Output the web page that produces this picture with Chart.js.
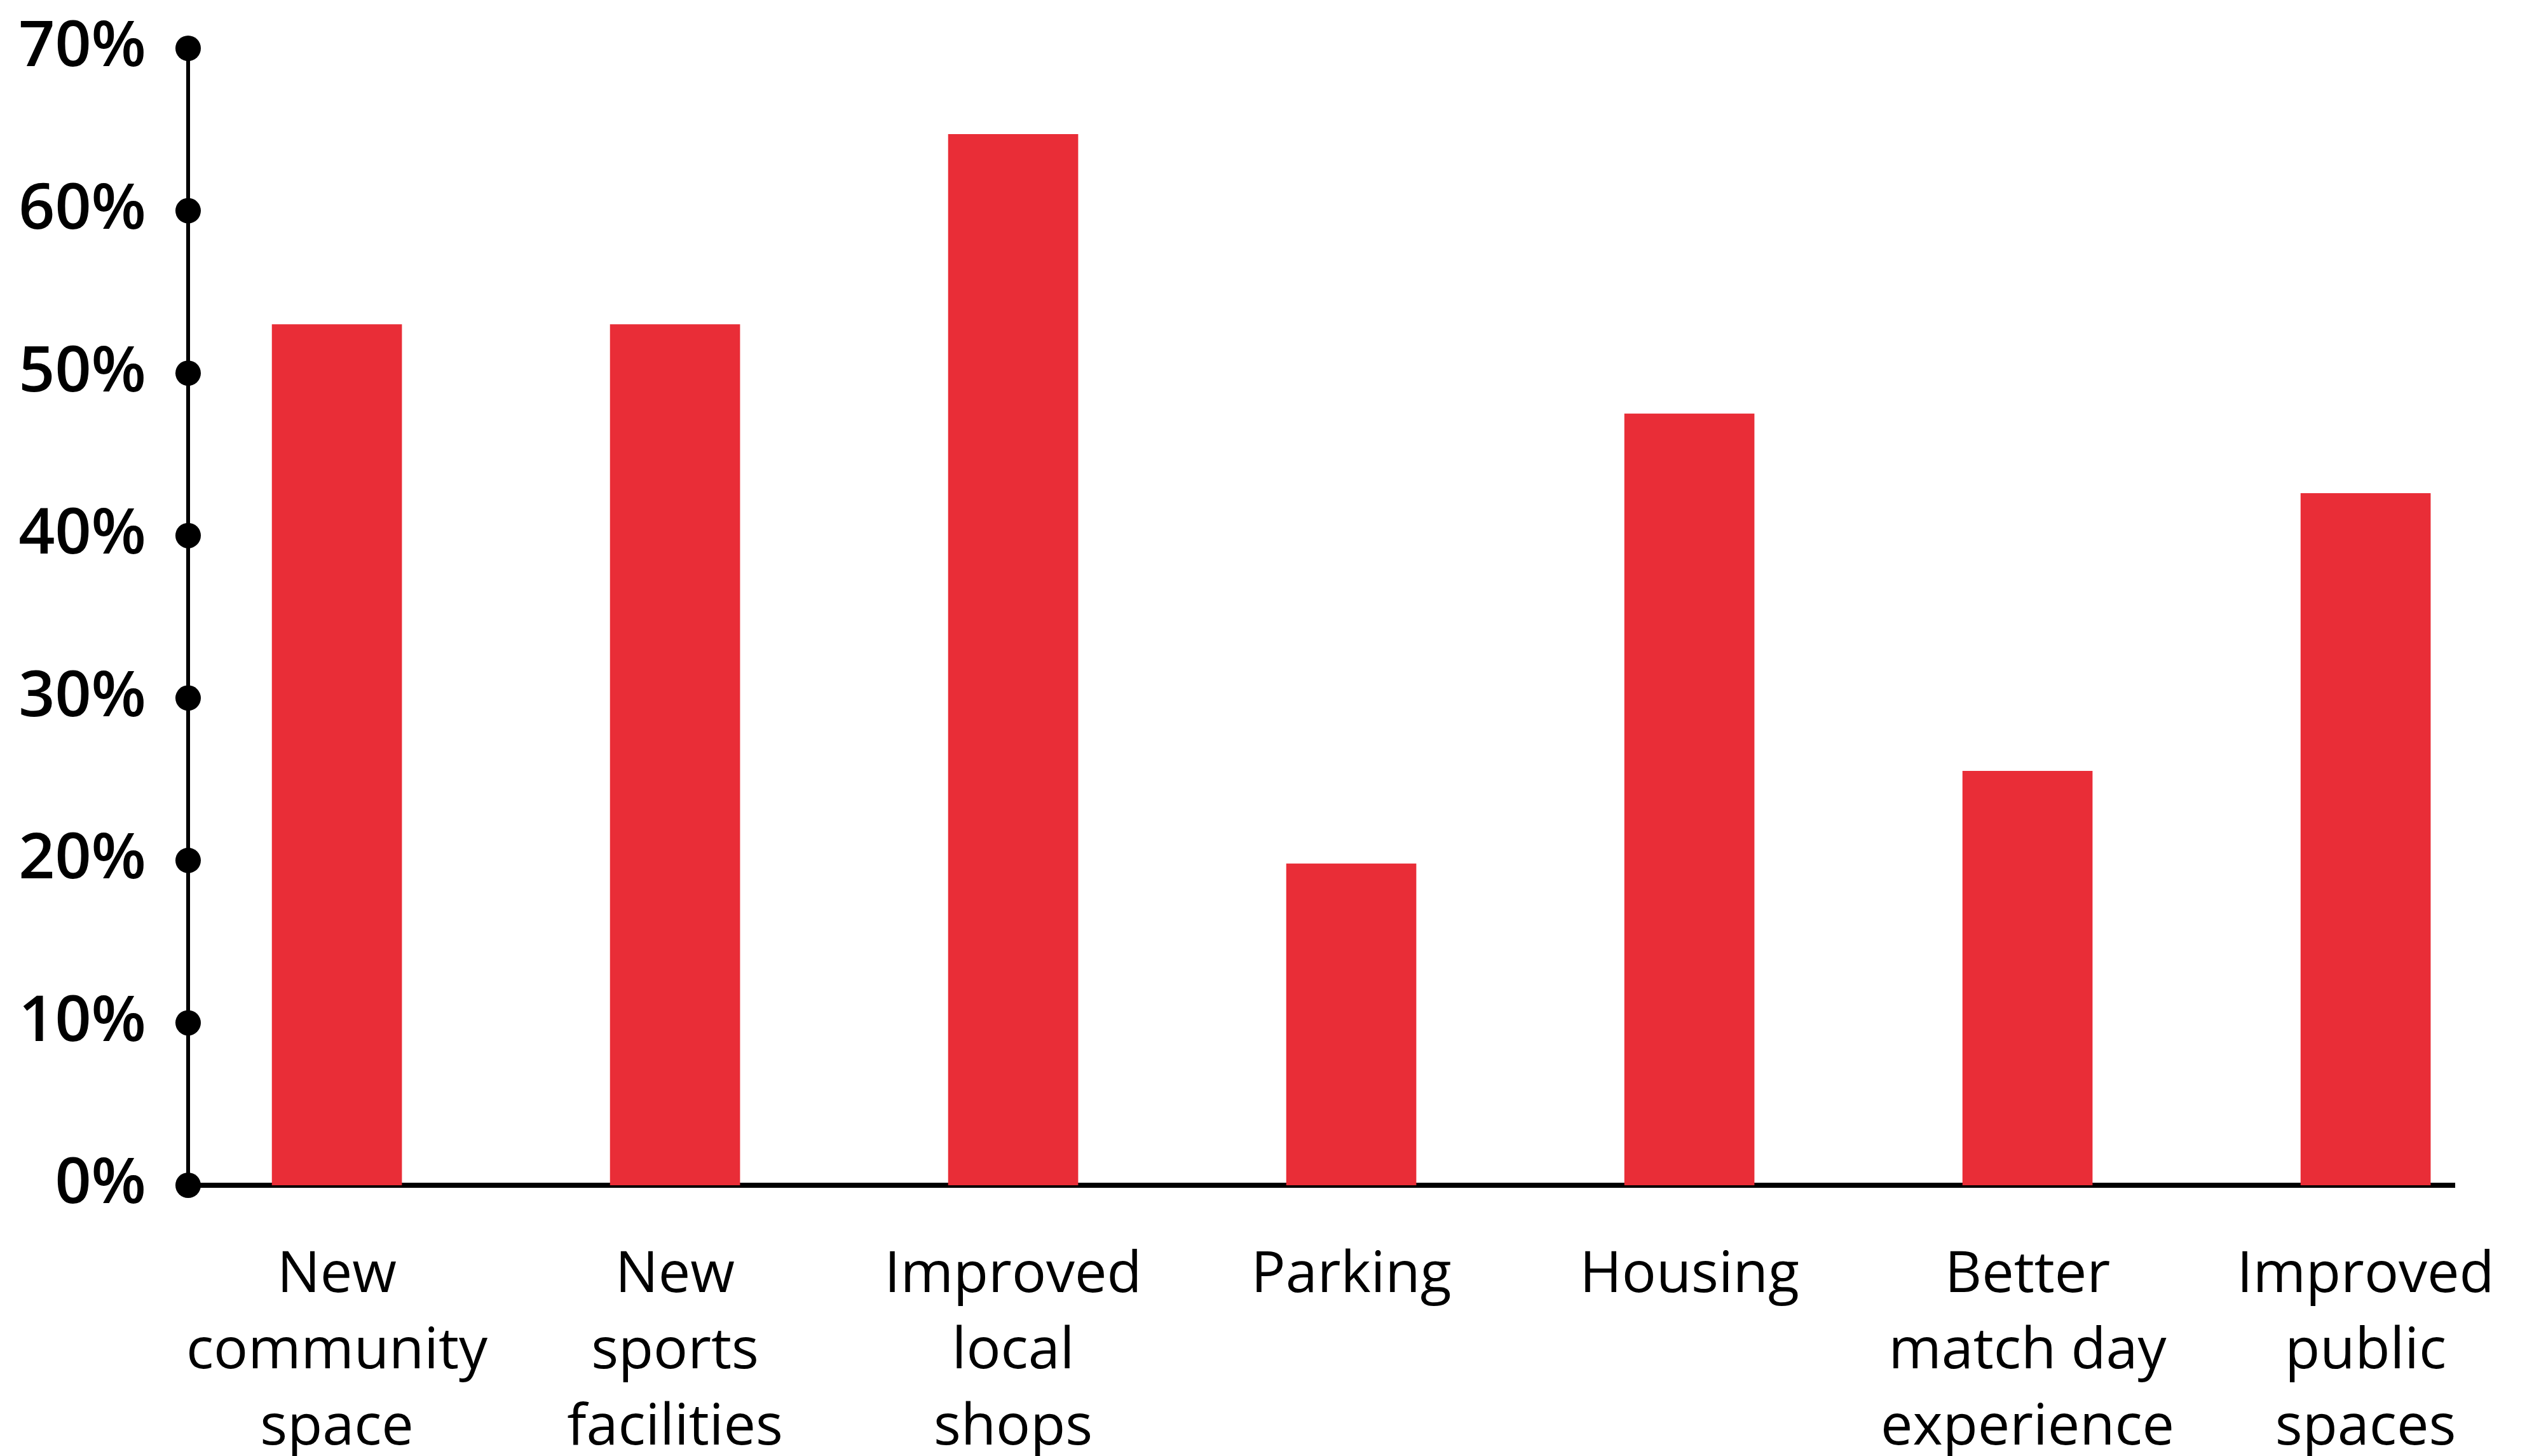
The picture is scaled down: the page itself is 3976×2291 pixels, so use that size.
<!DOCTYPE html>
<html lang="en">

<head>
    <meta charset="UTF-8">
    <title>Priorities</title>
    <style>
        body {
            margin: 0;
            padding: 0;
            background: #ffffff;
            overflow: hidden;
        }

        .chart-container {
            width: 3976px;
            height: 2291px;
            position: relative;
        }
    </style>
    <script src="https://cdn.jsdelivr.net/npm/chart.js"></script>
</head>

<body>
    <div class="chart-container">
        <canvas id="barChart"></canvas>
    </div>

    <script>
        // category labels, one line per entry
        const categories = [
            ['New', 'community', 'space'],
            ['New', 'sports', 'facilities'],
            ['Improved', 'local', 'shops'],
            ['Parking'],
            ['Housing'],
            ['Better', 'match day', 'experience'],
            ['Improved', 'public', 'spaces']
        ];
        const shares = [53, 53, 64.7, 19.8, 47.5, 25.5, 42.6];
        const yTicks = [0, 10, 20, 30, 40, 50, 60, 70];

        const barRed = '#e92d37';

        // black dots on the y axis at each tick
        const tickDots = {
            id: 'tickDots',
            afterDraw(chart) {
                const ctx = chart.ctx;
                const y = chart.scales.y;
                const x0 = chart.chartArea.left;
                ctx.save();
                ctx.fillStyle = '#000';
                y.ticks.forEach(t => {
                    ctx.beginPath();
                    ctx.arc(x0, y.getPixelForValue(t.value), 20, 0, Math.PI * 2);
                    ctx.fill();
                });
                ctx.restore();
            }
        };

        function createChart() {
            const ctx = document.getElementById('barChart').getContext('2d');
            new Chart(ctx, {
                type: 'bar',
                data: {
                    datasets: [{
                        data: shares.map((v, i) => ({ x: i, y: v })),
                        backgroundColor: barRed,
                        borderWidth: 0,
                        barThickness: 204
                    }]
                },
                options: {
                    responsive: true,
                    maintainAspectRatio: false,
                    animation: false,
                    layout: {
                        padding: { top: 76, right: 114, left: 0, bottom: 0 }
                    },
                    plugins: {
                        legend: { display: false },
                        tooltip: { enabled: false }
                    },
                    scales: {
                        x: {
                            type: 'linear',
                            min: -0.44,
                            max: 6.263,
                            bounds: 'data',
                            offset: false,
                            grid: { display: false, drawTicks: false },
                            border: { display: true, color: '#000', width: 8 },
                            afterFit(scale) {
                                scale.height = 426;
                                scale.paddingLeft = 0;
                                scale.paddingRight = 0;
                            },
                            afterBuildTicks(scale) {
                                scale.ticks = categories.map((c, i) => ({ value: i }));
                            },
                            ticks: {
                                autoSkip: false,
                                maxRotation: 0,
                                padding: 83,
                                color: '#000',
                                font: { family: 'Open Sans', size: 90, lineHeight: 1.33 },
                                callback: (v, i) => categories[i]
                            }
                        },
                        y: {
                            min: 0,
                            max: 70,
                            grid: { display: false, drawTicks: false },
                            border: { display: true, color: '#000', width: 6 },
                            afterFit(scale) {
                                scale.width = 296;
                                scale.paddingTop = 0;
                                scale.paddingBottom = 0;
                            },
                            afterBuildTicks(scale) {
                                scale.ticks = yTicks.map(v => ({ value: v }));
                            },
                            ticks: {
                                padding: 66,
                                color: '#000',
                                font: { family: 'Open Sans', size: 100, weight: 600 },
                                callback: v => v + '%'
                            }
                        }
                    }
                },
                plugins: [tickDots]
            });
        }

        window.onload = createChart;
    </script>
</body>

</html>
